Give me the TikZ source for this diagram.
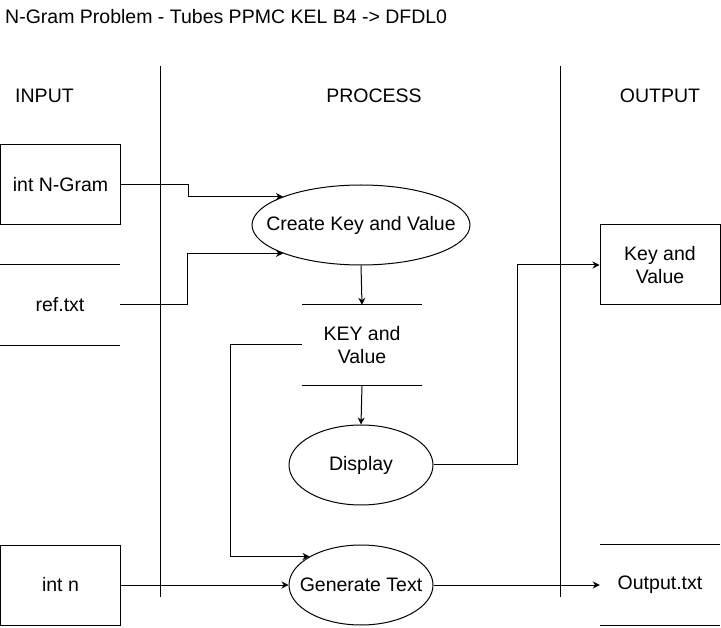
\documentclass[tikz,border=0pt]{standalone}
\usepackage{fontspec}
\setmainfont{Liberation Sans}
\usetikzlibrary{arrows.meta,shapes.geometric}

\tikzset{
	flow/.style={-{Stealth[length=7pt,width=7pt]},line width=1pt},
	entity/.style={draw,line width=1pt,minimum width=120pt,minimum height=80pt,align=center,inner sep=0pt},
	proc/.style={draw,ellipse,line width=1pt,inner ysep=0pt,inner xsep=-20pt,minimum height=80pt,align=center},
	store/.style={minimum width=120pt,minimum height=80pt,align=center,inner sep=0pt},
}

\begin{document}
\begin{tikzpicture}[x=1pt,y=-1pt,font=\fontsize{19.5}{23}\selectfont]
		\useasboundingbox (0,0) rectangle (721,628);
		\node[anchor=west,inner sep=0pt] (title) at (5,17) {N-Gram Problem - Tubes PPMC KEL B4 -> DFDL0};
		\node (input) at (44.5,96) {INPUT};
		\node (process) at (374,96) {PROCESS};
		\node (output) at (660,96) {OUTPUT};
		\draw[line width=1pt] (160,66) -- (160,597);
		\draw[line width=1pt] (560,66) -- (560,597);
		
		\node[entity] (ngram) at (60.5,185) {int N-Gram};
		\node[store] (ref) at (60,305) {ref.txt};
		\node[entity] (intn) at (60.5,585) {int n};
		\node[proc,minimum width=218pt] (create) at (361,225) {Create Key and Value};
		\node[store] (kv) at (362,345) {KEY and\\Value};
		\node[proc,minimum width=144pt] (disp) at (361,465) {Display};
		\node[proc,minimum width=144pt] (gen) at (361,585) {Generate Text};
		\node[entity] (kvout) at (660,265) {Key and\\Value};
		\node[store] (outtxt) at (660,585) {Output.txt};
		\foreach \n in {ref,kv,outtxt}
			\draw[line width=1pt] (\n.north west) -- (\n.north east) (\n.south west) -- (\n.south east);
		
		\draw[flow] (ngram.east) -- ++(67,0) |- (create.160);
		\draw[flow] (ref.east) -- ++(67,0) |- (create.200);
		\draw[flow] (create.south) -- (kv.north);
		\draw[flow] (kv.south) -- (disp.north);
		\draw[flow] (kv.west) -- ++(-71,0) |- (gen.151);
		\draw[flow] (disp.east) -- ++(84,0) |- (kvout.west);
		\draw[flow] (intn.east) -- (gen.west);
		\draw[flow] (gen.east) -- (outtxt.west);
		
		\end{tikzpicture}
\end{document}
